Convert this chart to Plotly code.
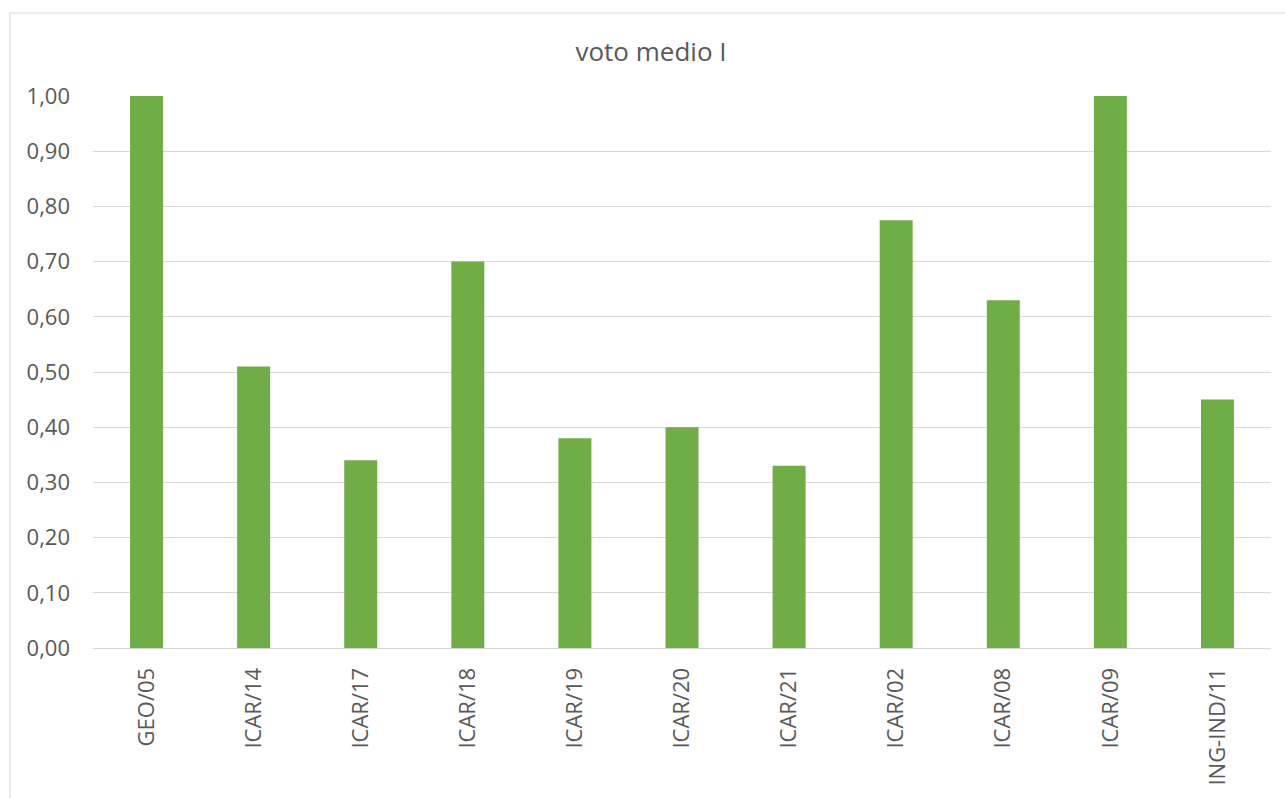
import plotly.graph_objects as go

categories = ["GEO/05", "ICAR/14", "ICAR/17", "ICAR/18", "ICAR/19", "ICAR/20",
              "ICAR/21", "ICAR/02", "ICAR/08", "ICAR/09", "ING-IND/11"]
values = [1.00, 0.51, 0.34, 0.70, 0.38, 0.40, 0.33, 0.775, 0.63, 1.00, 0.45]
y_ticks = [0.0, 0.1, 0.2, 0.3, 0.4, 0.5, 0.6, 0.7, 0.8, 0.9, 1.0]

W, H = 1285, 798
ML, MR, MT, MB = 93, 14, 96, 150
PW = W - ML - MR
PH = H - MT - MB

text_color = "#595959"
grid_color = "#D9D9D9"

fig = go.Figure(go.Bar(
    x=categories, y=values,
    marker=dict(color="#70AD47", line=dict(width=0)),
    hoverinfo="x+y",
))

fig.update_layout(
    width=W, height=H,
    margin=dict(l=ML, r=MR, t=MT, b=MB, autoexpand=False),
    paper_bgcolor="white", plot_bgcolor="white",
    separators=",.",
    bargap=0.692,
    font=dict(family="Open Sans", color=text_color, size=22),
    title=dict(text="voto medio I", x=651 / W, xanchor="center",
               y=1 - 52 / H, yanchor="middle", font=dict(size=26, color=text_color)),
    showlegend=False,
    xaxis=dict(
        type="category", tickangle=-90, showgrid=False,
        showline=True, linecolor=grid_color, linewidth=1.2,
        ticks="", ticklabelstandoff=10,
        tickfont=dict(size=22, color=text_color),
    ),
    yaxis=dict(
        range=[0, 1.0], tickvals=y_ticks, tickformat=".2f",
        showgrid=True, gridcolor=grid_color, gridwidth=1.2,
        zeroline=True, zerolinecolor=grid_color, zerolinewidth=1.2,
        showline=False, ticks="", ticklabelstandoff=22,
        tickfont=dict(size=22, color=text_color),
    ),
    shapes=[dict(
        type="rect", xref="paper", yref="paper",
        x0=(10 - ML) / PW, x1=(W + 5 - ML) / PW,
        y0=-(H + 5 - MT - PH) / PH, y1=1 + (MT - 13) / PH,
        line=dict(color=grid_color, width=1.2), fillcolor="rgba(0,0,0,0)",
        layer="below",
    )],
)

fig.write_html("out.html")
